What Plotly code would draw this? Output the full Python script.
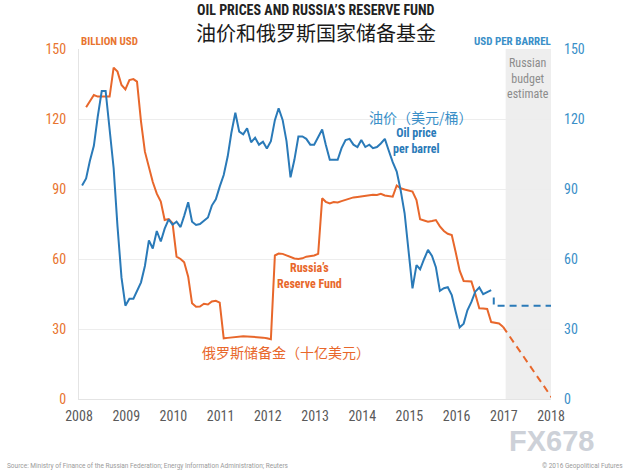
import plotly.graph_objects as go

# ---------------- data ----------------
years = list(range(2008, 2017))

oil_price = [
    91.5, 94.5, 102, 108.5, 121, 132, 132, 114, 99, 74, 52, 40,          # 2008
    43, 43, 46, 50, 57, 68, 64.5, 72, 67.5, 73, 77, 74.7,                # 2009
    76, 73.7, 78.5, 84.3, 76, 74.6, 75, 76.5, 77.8, 82.9, 85.6, 91,       # 2010
    96, 104, 114, 122.7, 114.6, 113.4, 116, 110, 112, 109, 110.3, 107.4,  # 2011
    110.5, 119.5, 124.6, 119.6, 110.5, 95, 102.5, 112.5, 112.5, 111.5, 109, 109,  # 2012
    112.5, 115.5, 109, 102.5, 102.5, 102.5, 107.5, 111, 111.5, 109, 108, 111,     # 2013
    108, 109, 107.5, 108, 109.5, 111.5, 106.5, 101.5, 97.5, 89.6, 79.6, 62.4,     # 2014
    47.4, 57.4, 55.6, 60, 63.9, 61.3, 56.5, 46.4, 47.5, 47.9, 44.5, 37.5,         # 2015
    30.7, 32.3, 38, 41.6, 46, 47.8, 44.9, 45.8, 46.7,                             # 2016 (Jan-Sep)
]

reserve_fund = [
    None, 125, 127.4, 130.3, 129.6, 129.6, 129.6, 129.6, 142, 140.3, 134.6, 132.7,   # 2008
    136.7, 137.1, 136, 118.9, 106, 99.5, 93, 88, 84.6, 76.7, 77.1, 75.3,            # 2009
    61, 60, 58.6, 52.4, 41, 39.5, 39.6, 40.8, 40.5, 41.8, 42.1, 41.3,               # 2010
    26, 26.2, 26.4, 26.6, 27.0, 26.9, 26.8, 26.7, 26.8, 26.4, 26.3, 26.0,           # 2011
    25.6, 61.5, 62.3, 62.2, 61.5, 60.6, 60.2, 60.0, 60.3, 61.0, 61.3, 61.5,         # 2012
    62.2, 86.0, 84.5, 83.8, 84.4, 84.2, 84.8, 85.3, 86.0, 86.4, 86.6, 86.9,         # 2013
    87.0, 87.2, 87.5, 87.4, 87.9, 87.2, 87.0, 86.7, 91.5, 90.3, 89.8, 89.3,         # 2014
    88.9, 85.3, 77, 76.5, 76, 76.3, 76.7, 74, 72, 70.8, 70.3, 63,                   # 2015
    55, 50.6, 50.6, 50.4, 45, 38.9, 38.8, 38.6, 33, 32.6, 32.4, 31,                 # 2016
]

# budget-estimate projections (dashed)
oil_est_x = ["2016-10-15", "2016-10-15", "2018-01-01"]
oil_est_y = [43.5, 40, 40]
fund_est_x = ["2016-12-25", "2018-01-15"]
fund_est_y = [31, 0]

tick_years = list(range(2008, 2019))
y_ticks = [0, 30, 60, 90, 120, 150]

months = [f"{y}-{m:02d}-25" for y in years for m in range(1, 13)]
oil_dates = months[:len(oil_price)]
fund_dates = months[:len(reserve_fund)]

# ---------------- styles ----------------
ORANGE = "#e8672b"
BLUE = "#2a7ab8"
ORANGE_TXT = "#e8742f"
BLUE_TXT = "#3a8fc8"
COND = "Roboto Condensed, Liberation Sans Narrow, DejaVu Sans Condensed, Roboto, sans-serif"
CJK = "Noto Sans CJK SC"

fig = go.Figure()

fig.add_trace(go.Scatter(x=fund_dates, y=reserve_fund, mode="lines",
                         line=dict(color=ORANGE, width=2), yaxis="y", showlegend=False))
fig.add_trace(go.Scatter(x=fund_est_x, y=fund_est_y, mode="lines",
                         line=dict(color=ORANGE, width=2, dash="7px,5px"), yaxis="y", showlegend=False))
fig.add_trace(go.Scatter(x=oil_dates, y=oil_price, mode="lines",
                         line=dict(color=BLUE, width=2), yaxis="y2", showlegend=False))
fig.add_trace(go.Scatter(x=oil_est_x, y=oil_est_y, mode="lines",
                         line=dict(color=BLUE, width=2, dash="7px,5px"), yaxis="y2", showlegend=False))

# shaded budget-estimate region
fig.add_shape(type="rect", xref="x", yref="y", x0="2017-01-15", x1="2018-01-01",
              y0=0, y1=150, fillcolor="#eeeeee", line=dict(width=0), layer="below")

fig.update_layout(
    width=630, height=473,
    margin=dict(l=79, r=79, t=49, b=74),
    paper_bgcolor="white", plot_bgcolor="white",
    xaxis=dict(
        type="date",
        range=["2008-01-01", "2018-01-01"],
        tickvals=[f"{y}-01-01" for y in tick_years],
        ticktext=[str(y) for y in tick_years],
        showgrid=False, zeroline=False,
        showline=True, linecolor="#e4e4e4", linewidth=1,
        ticks="", ticklabelstandoff=4,
        tickfont=dict(family=COND, size=14, color="#5a5a5a"),
    ),
    yaxis=dict(
        range=[0, 150], tickvals=y_ticks,
        showgrid=True, gridcolor="#ededed", gridwidth=1,
        zeroline=False, showline=True, linecolor="#e4e4e4", linewidth=1,
        ticks="", ticklabelstandoff=9,
        tickfont=dict(family=COND, size=14, color=ORANGE_TXT),
    ),
    yaxis2=dict(
        range=[0, 150], tickvals=y_ticks, overlaying="y", side="right",
        showgrid=False, zeroline=False, showline=False,
        ticks="", ticklabelstandoff=12,
        tickfont=dict(family=COND, size=14, color=BLUE_TXT),
    ),
)

ann = [
    dict(text="<b>OIL PRICES AND RUSSIA\u2019S RESERVE FUND</b>", x=0.502, y=1.112,
         font=dict(family=COND, size=14, color="#222222")),
    dict(text="油价和俄罗斯国家储备基金", x=0.503, y=1.046,
         font=dict(family=CJK, size=20, color="#1a1a1a")),
    dict(text="<b>BILLION USD</b>", x=0.0, y=1.021, xanchor="left",
         font=dict(family=COND, size=11, color=ORANGE_TXT)),
    dict(text="<b>USD PER BARREL</b>", x=1.004, y=1.021, xanchor="right",
         font=dict(family=COND, size=11, color=BLUE_TXT)),
    dict(text="Russian<br>budget<br>estimate", x=0.951, y=0.985, yanchor="top",
         font=dict(family=COND, size=12, color="#8c8c8c")),
    dict(text="油价（美元/桶）", x=0.725, y=0.806,
         font=dict(family=CJK, size=14, color=BLUE_TXT)),
    dict(text="<b>Oil price<br>per barrel</b>", x=0.714, y=0.737,
         font=dict(family=COND, size=12, color=BLUE)),
    dict(text="<b>Russia\u2019s<br>Reserve Fund</b>", x=0.489, y=0.351,
         font=dict(family=COND, size=12, color=ORANGE)),
    dict(text="俄罗斯储备金（十亿美元）", x=0.439, y=0.134,
         font=dict(family=CJK, size=14, color=ORANGE)),
    dict(text="Source: Ministry of Finance of the Russian Federation; Energy Information Administration; Reuters",
         x=-0.157, y=-0.191, xanchor="left",
         font=dict(family="Roboto", size=6.5, color="#9a9a9a")),
    dict(text="\u00a9 2016 Geopolitical Futures", x=1.157, y=-0.191, xanchor="right",
         font=dict(family="Roboto", size=6.5, color="#9a9a9a")),
    dict(text="<b>FX678</b>", x=1.0, y=-0.119,
         font=dict(family="Liberation Sans", size=29, color="#cdd1d8")),
]
for a in ann:
    base = dict(xref="paper", yref="paper", showarrow=False, xanchor="center", yanchor="middle")
    base.update(a)
    fig.add_annotation(**base)

fig.write_html("out.html", config={"displayModeBar": False},
               post_script="document.body.style.margin='0px';")
